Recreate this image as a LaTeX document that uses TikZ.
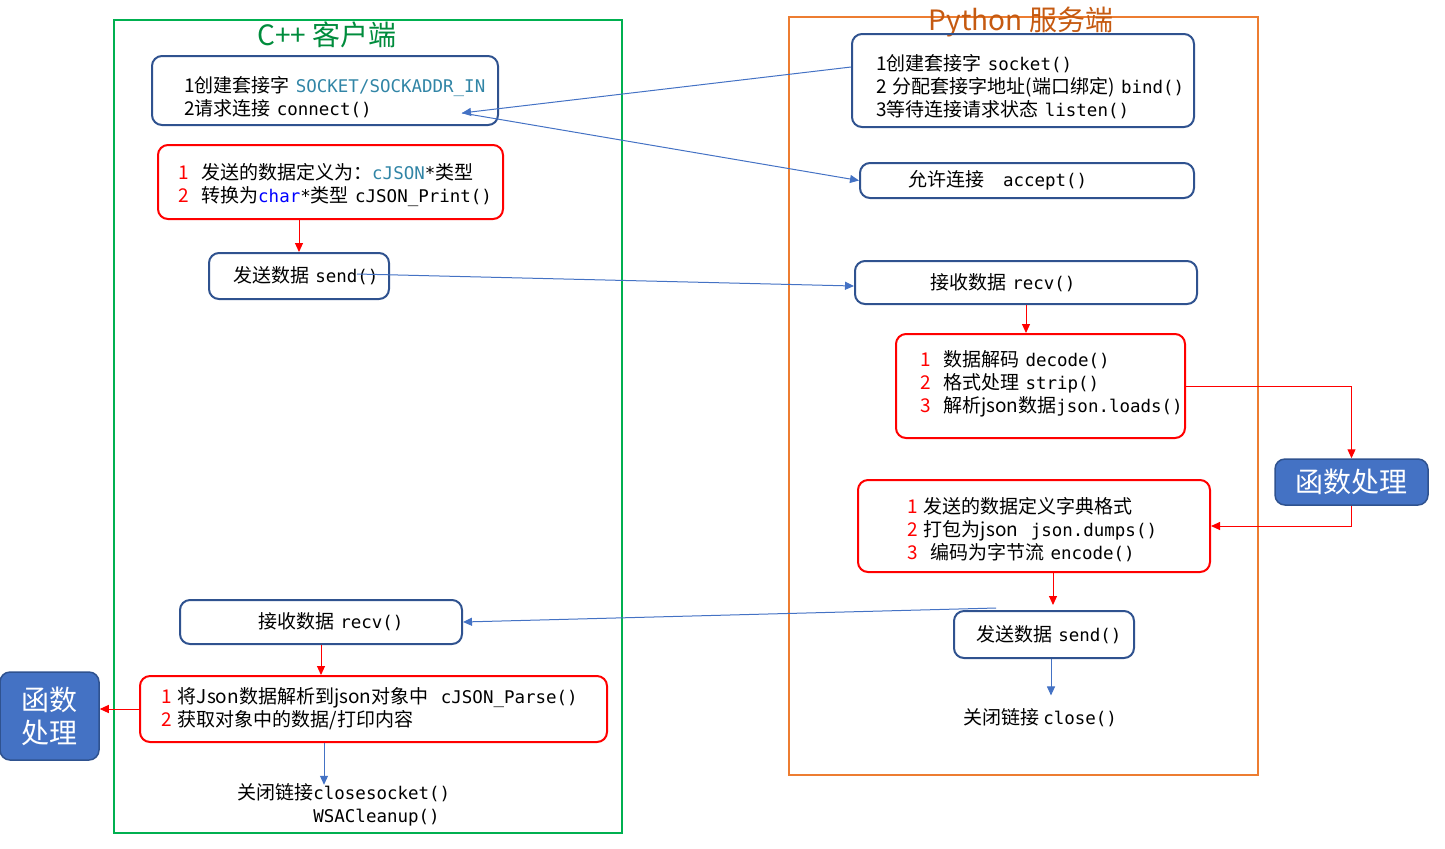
\documentclass[tikz,border=0pt]{standalone}
\usepackage{fontspec}
\setmainfont{Noto Sans CJK SC}
\setmonofont{DejaVu Sans Mono}[Scale=0.92]
\usetikzlibrary{arrows.meta,calc,positioning}
\definecolor{BoxBlue}{RGB}{47,82,143}
\definecolor{LinkBlue}{RGB}{68,114,196}
\definecolor{FrameGreen}{RGB}{0,176,80}
\definecolor{TitleGreen}{RGB}{0,140,60}
\definecolor{FrameOrange}{RGB}{237,125,49}
\definecolor{TitleBrown}{RGB}{197,90,17}
\definecolor{CodeTeal}{RGB}{49,133,166}
\hyphenpenalty=10000
\begin{document}
\begin{tikzpicture}[x=0.5pt,y=-0.5pt,font=\fontsize{9.5pt}{11.5pt}\selectfont,
  bluebox/.style={draw=BoxBlue,line width=1pt,rounded corners=5pt,align=left},
  redbox/.style={draw=red,line width=1pt,rounded corners=5pt,align=left},
  funcbox/.style={draw=BoxBlue,line width=0.75pt,fill=LinkBlue,rounded corners=5pt,text=white,align=center,font=\fontsize{14pt}{16.5pt}\selectfont},
  bluelink/.style={draw=LinkBlue,line width=0.5pt,-{Triangle[length=4.5pt,width=4pt]}},
  redlink/.style={draw=red,line width=0.5pt,-{Triangle[length=4.5pt,width=4pt]}}]
\useasboundingbox (0,0) rectangle (1445,848);
% frames and titles
\draw[FrameGreen,line width=1pt] (114,20) rectangle (622,833);
\draw[FrameOrange,line width=1pt] (789,17) rectangle (1258,775);
\node[text=TitleGreen,font=\fontsize{14pt}{17pt}\selectfont] (cliTitle) at (327,35) {C++ 客户端};
\node[text=TitleBrown,font=\fontsize{14pt}{17pt}\selectfont] (srvTitle) at (1021,22) {Python 服务端};
% client side
\node[bluebox,minimum height=34.5pt,text width=141pt,inner xsep=16pt] (cliSock) at (325,90.5) {\rule{0pt}{14.4pt}1创建套接字~\textcolor{CodeTeal}{\texttt{SOCKET/SOCKADDR\_IN}}\\2请求连接~\texttt{connect()}};
\node[redbox,minimum height=37pt,text width=152.5pt,inner xsep=10pt] (cliPack) at (330.5,182) {\rule{0pt}{11.4pt}\textcolor{red}{1}~~发送的数据定义为：\textcolor{CodeTeal}{\texttt{cJSON}}\texttt{*}类型\\\textcolor{red}{2}~~转换为\textcolor{blue}{\texttt{char}}\texttt{*}类型~\texttt{cJSON\_Print()}};
\node[bluebox,minimum height=23pt,text width=66pt,inner xsep=12pt] (cliSend) at (299,276) {发送数据~\texttt{send()}};
\node[bluebox,minimum height=22pt,text width=63pt,inner xsep=39pt] (cliRecv) at (321,622) {接收数据~\texttt{recv()}};
\node[redbox,minimum height=33pt,text width=212.5pt,inner xsep=10.5pt] (cliParse) at (373.5,709) {\textcolor{red}{1}~将Json数据解析到json对象中~~\texttt{cJSON\_Parse()}\\\textcolor{red}{2}~获取对象中的数据/打印内容};
\node[funcbox,minimum width=49.5pt,minimum height=44pt] (cliFunc) at (49.5,716) {函数\\处理};
\node[align=left,anchor=west,inner sep=0pt] (cliClose) at (237,804.5) {关闭链接\texttt{closesocket()}\\\hphantom{关闭链接}\texttt{WSACleanup()}};
% server side
\node[bluebox,minimum height=46.5pt,text width=147pt,inner xsep=12pt] (srvSock) at (1023,80.5) {\rule{0pt}{14.4pt}1创建套接字~\texttt{socket()}\\2~分配套接字地址(端口绑定)~\texttt{bind()}\\3等待连接请求状态~\texttt{listen()}};
\node[bluebox,minimum height=17.5pt,text width=119pt,inner xsep=24pt] (srvAccept) at (1027,180.5) {允许连接~~~\texttt{accept()}};
\node[bluebox,minimum height=21.5pt,text width=96pt,inner xsep=37.5pt] (srvRecv) at (1026,282.5) {接收数据~\texttt{recv()}};
\node[redbox,minimum height=52pt,text width=120.5pt,inner xsep=12pt] (srvParse) at (1040.5,386) {\textcolor{red}{1}~~数据解码~\texttt{decode()}\\\textcolor{red}{2}~~格式处理~\texttt{strip()}\\\textcolor{red}{3}~~解析json数据\texttt{json.loads()}\rule[-5pt]{0pt}{5pt}};
\node[funcbox,minimum width=76.5pt,minimum height=23pt] (srvFunc) at (1351.5,482) {函数处理};
\node[redbox,minimum height=46pt,text width=127pt,inner xsep=24.5pt] (srvPack) at (1034,526) {\rule{0pt}{11.4pt}\textcolor{red}{1}~发送的数据定义字典格式\\\textcolor{red}{2}~打包为json~~\texttt{json.dumps()}\\\textcolor{red}{3}~~编码为字节流~\texttt{encode()}};
\node[bluebox,minimum height=23.5pt,text width=68pt,inner xsep=11pt] (srvSend) at (1044,634.5) {发送数据~\texttt{send()}};
\node[inner sep=0pt] (srvClose) at (1040,718) {关闭链接~\texttt{close()}};
% free ends of the links
\coordinate (cliConn) at (462,113);
\coordinate (cliOut) at (357,274);
\coordinate (srvOut) at (996,608);
% links between client and server
\draw[bluelink] ([yshift=6.75pt]srvSock.west) -- (cliConn);
\draw[bluelink] (cliConn) -- (srvAccept.west);
\draw[bluelink] (cliOut) -- ([yshift=-1.75pt]srvRecv.west);
\draw[bluelink] (srvOut) -- (cliRecv.east);
% flow inside each side
\draw[redlink] (cliSend.north |- cliPack.south) -- (cliSend.north);
\draw[redlink] (cliRecv.south) -- (cliRecv.south |- cliParse.north);
\draw[redlink] (cliParse.west) -- (cliFunc.east |- cliParse.west);
\draw[bluelink] ([xshift=-24.75pt]cliParse.south) -- ([xshift=-24.75pt,yshift=-1pt]cliParse.south |- cliClose.north);
\draw[redlink] (srvRecv.south) -- (srvRecv.south |- srvParse.north);
\draw[redlink] (srvParse.east) -| (srvFunc.north);
\draw[redlink] (srvFunc.south) |- (srvPack.east);
\draw[redlink] ([xshift=9.5pt]srvPack.south) -- ([xshift=9.5pt,yshift=2.5pt]srvPack.south |- srvSend.north);
\draw[bluelink] ([xshift=3.5pt]srvSend.south) -- ([xshift=3.5pt,yshift=6.5pt]srvSend.south |- srvClose.north);
\end{tikzpicture}
\end{document}
